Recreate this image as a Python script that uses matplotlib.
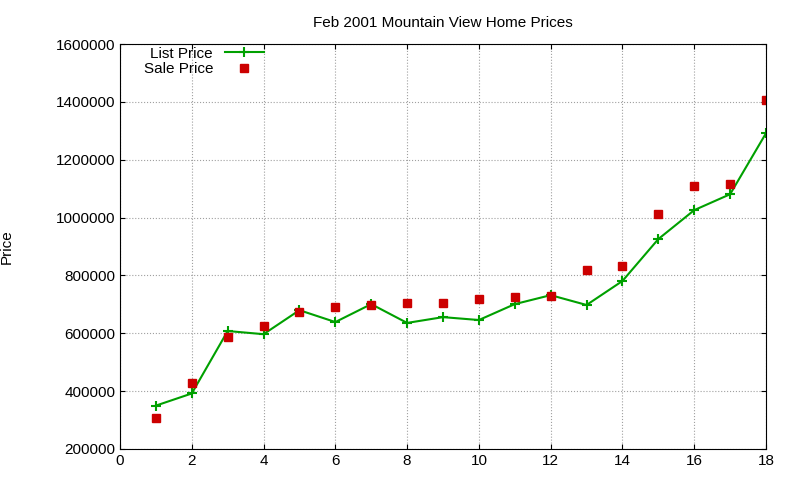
import matplotlib
matplotlib.use("Agg")
import matplotlib.pyplot as plt
from matplotlib.ticker import FuncFormatter

x = list(range(1, 19))
list_price = [350000, 392000, 608000, 597000, 680000, 639000, 701000, 636000, 656000,
              646000, 701000, 732000, 698000, 781000, 926000, 1026000, 1081000, 1292000]
sale_price = [307000, 428000, 587000, 625000, 673000, 691000, 697000, 705000, 705000,
              718000, 725000, 729000, 819000, 832000, 1012000, 1109000, 1116000, 1406000]

plt.rcParams['font.family'] = ['Liberation Sans', 'DejaVu Sans']
fig = plt.figure(figsize=(8, 4.8), dpi=100)
ax = fig.add_axes([0.15, 0.0646, 0.8075, 0.8434])
ax.plot(x, list_price, color='#00a000', lw=1.5, marker='+', ms=7, mew=1.5, label='List Price')
ax.plot(x, sale_price, ls='none', marker='s', ms=6, color='#cc0000', label='Sale Price')
ax.set_xlim(0, 18)
ax.set_ylim(200000, 1600000)
ax.set_xticks(range(0, 19, 2))
ax.set_yticks(range(200000, 1600001, 200000))
ax.yaxis.set_major_formatter(FuncFormatter(lambda v, p: f"{int(v)}"))
ax.tick_params(direction='in', labelsize=11, top=True, right=True)
ax.grid(True, color='#a0a0a0', ls=':', lw=0.8)
ax.set_ylabel('Price', fontsize=11, labelpad=30)
ax.set_title('Feb 2001 Mountain View Home Prices', fontsize=11, pad=12)
ax.legend(loc='upper left', frameon=False, fontsize=11, markerfirst=False,
          bbox_to_anchor=(0.02, 1.02), handlelength=2.5, borderaxespad=0.3, labelspacing=0.1)
fig.savefig('out.png')
